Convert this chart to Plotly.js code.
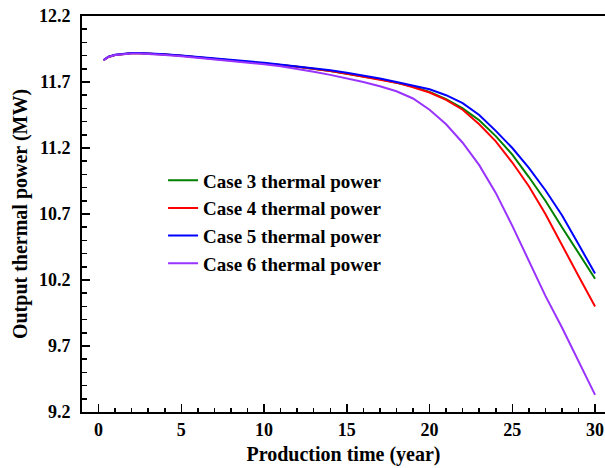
<!DOCTYPE html>
<html>
<head>
<meta charset="utf-8">
<script src="https://cdn.plot.ly/plotly-3.0.1.min.js"></script>
<style>
html,body{margin:0;padding:0;background:#fff;}
#chart{width:605px;height:468px;}
</style>
</head>
<body>
<div id="chart"></div>
<script>
const years = [0.3, 0.6, 1, 1.5, 2, 2.5, 3, 4, 5, 6, 7, 8, 9, 10, 11, 12, 13, 14, 15, 16, 17, 18, 19, 20, 21, 22, 23, 24, 25, 26, 27, 28, 29, 30];
const case3 = [11.865, 11.89, 11.905, 11.913, 11.917, 11.918, 11.916, 11.908, 11.899, 11.888, 11.877, 11.866, 11.854, 11.842, 11.829, 11.815, 11.8, 11.783, 11.763, 11.743, 11.72, 11.695, 11.665, 11.625, 11.57, 11.5, 11.41, 11.29, 11.15, 10.98, 10.8, 10.6, 10.41, 10.21];
const case4 = [11.865, 11.89, 11.905, 11.913, 11.917, 11.918, 11.916, 11.908, 11.899, 11.888, 11.877, 11.866, 11.854, 11.842, 11.829, 11.815, 11.8, 11.783, 11.763, 11.742, 11.72, 11.695, 11.66, 11.62, 11.565, 11.49, 11.38, 11.25, 11.09, 10.91, 10.7, 10.46, 10.23, 10.0];
const case5 = [11.867, 11.892, 11.907, 11.915, 11.919, 11.92, 11.918, 11.91, 11.901, 11.891, 11.88, 11.869, 11.857, 11.845, 11.832, 11.819, 11.805, 11.789, 11.77, 11.75, 11.727, 11.70, 11.675, 11.645, 11.60, 11.54, 11.45, 11.33, 11.20, 11.05, 10.88, 10.69, 10.47, 10.25];
const case6 = [11.865, 11.89, 11.905, 11.913, 11.916, 11.916, 11.914, 11.905, 11.895, 11.884, 11.872, 11.86, 11.848, 11.835, 11.82, 11.80, 11.778, 11.754, 11.728, 11.70, 11.668, 11.63, 11.575, 11.49, 11.38, 11.24, 11.07, 10.86, 10.61, 10.34, 10.08, 9.84, 9.59, 9.33];
const names = ["Case 3 thermal power", "Case 4 thermal power", "Case 5 thermal power", "Case 6 thermal power"];
const xTickVals = [0, 5, 10, 15, 20, 25, 30];
const xTickText = ["0", "5", "10", "15", "20", "25", "30"];
const yTickVals = [9.2, 9.7, 10.2, 10.7, 11.2, 11.7, 12.2];
const yTickText = ["9.2", "9.7", "10.2", "10.7", "11.2", "11.7", "12.2"];
const colors = ["#008000", "#ff0000", "#0000ff", "#9933ff"];
const series = [case3, case4, case5, case6];

const FONT = "Liberation Serif, Times New Roman, serif";
const traces = series.map((s, i) => ({
  x: years, y: s, type: "scatter", mode: "lines", name: names[i],
  line: {color: colors[i], width: 2}
}));

const layout = {
  width: 605, height: 468,
  margin: {l: 82, r: 0, t: 16, b: 56},
  paper_bgcolor: "#fff", plot_bgcolor: "#fff",
  font: {family: FONT, color: "#000"},
  showlegend: true,
  legend: {x: 0.155, y: 0.633, xanchor: "left", yanchor: "top", bgcolor: "rgba(0,0,0,0)",
           font: {family: FONT, size: 19, color: "#000", weight: "bold"}, tracegroupgap: 0},
  xaxis: {
    range: [-1, 30.6], tickmode: "array", tickvals: xTickVals, ticktext: xTickText,
    ticks: "inside", ticklen: 8, tickwidth: 1.5, tickcolor: "#000",
    showline: true, linecolor: "#000", linewidth: 2, mirror: true, showgrid: false, zeroline: false,
    minor: {tickmode: "linear", tick0: 0, dtick: 1, ticks: "inside", ticklen: 4.5, tickwidth: 1.5, tickcolor: "#000", showgrid: false},
    tickfont: {family: FONT, size: 18, color: "#000", weight: "bold"},
    title: {text: "Production time (year)", font: {family: FONT, size: 20, color: "#000", weight: "bold"}, standoff: 8}
  },
  yaxis: {
    range: [9.2, 12.2], tickmode: "array", tickvals: yTickVals, ticktext: yTickText,
    ticks: "inside", ticklen: 8, tickwidth: 1.5, tickcolor: "#000",
    showline: true, linecolor: "#000", linewidth: 2, mirror: false, showgrid: false, zeroline: false,
    minor: {tickmode: "linear", tick0: 9.2, dtick: 0.1, ticks: "inside", ticklen: 4.5, tickwidth: 1.5, tickcolor: "#000", showgrid: false},
    tickfont: {family: FONT, size: 18, color: "#000", weight: "bold"},
    ticklabelstandoff: 6,
    title: {text: "Output thermal power (MW)", font: {family: FONT, size: 20, color: "#000", weight: "bold"}, standoff: 6}
  }
};
Plotly.newPlot("chart", traces, layout, {displayModeBar: false, staticPlot: true});
</script>
</body>
</html>
